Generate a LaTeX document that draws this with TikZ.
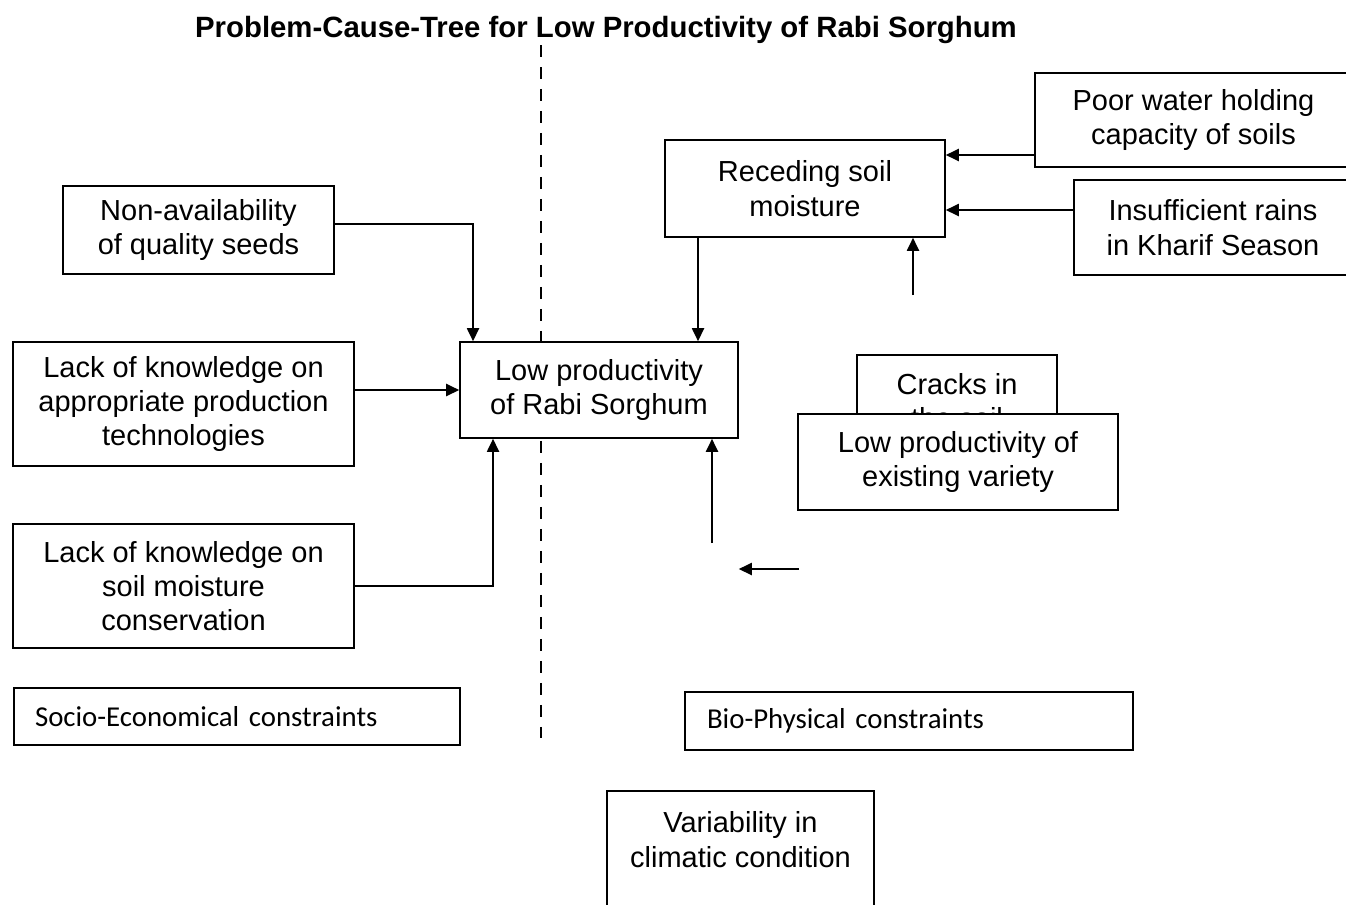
\documentclass[tikz,border=0pt]{standalone}
\usepackage{fontspec}
\setmainfont{Liberation Sans}
\newfontfamily\calibfont{Carlito}
\usepackage{tikz}
\usetikzlibrary{arrows.meta, positioning}
\tikzstyle{arrow} = [line width=1.1pt,-{Triangle[length=0.26cm,width=0.24cm]}]

\begin{document}
\begin{tikzpicture}[
  x=0.02cm, y=-0.02cm,
  box/.style={rectangle, draw, line width=0.9pt, fill=white, align=center, inner sep=0pt, font=\fontsize{16.5}{19.5}\selectfont},
  tag/.style={rectangle, draw, line width=0.9pt, fill=white, align=left, inner sep=0pt, text width=8.08cm, font=\calibfont\fontsize{16.4}{19}\selectfont},
  divider/.style={line width=1.1pt, dash pattern=on 0.24cm off 0.2cm}
]
\useasboundingbox (0,0) rectangle (1346,904);

% Title
\node (title) at (606,30) {\fontsize{16.7}{19.5}\selectfont\bfseries Problem-Cause-Tree for Low Productivity of Rabi Sorghum};

% Divider between the two kinds of constraints
\coordinate (divtop) at (541,45);
\coordinate (divbot) at (541,738);
\draw[divider] (divtop) -- (divbot);

% Central problem
\node[box, minimum width=5.56cm, minimum height=1.92cm] (lowprod) at (599,390) {Low productivity\\of Rabi Sorghum};

% Socio-economical causes
\node[box, minimum width=5.42cm, minimum height=1.76cm] (seeds) at (198.5,230) {Non-availability\\of quality seeds};
\node[box, minimum width=6.82cm, minimum height=2.48cm] (tech) at (183.5,404) {Lack of knowledge on\\appropriate production\\technologies};
\node[box, minimum width=6.82cm, minimum height=2.48cm] (soilcons) at (183.5,586) {Lack of knowledge on\\soil moisture\\conservation};

% Bio-physical causes
\node[box, minimum width=5.6cm, minimum height=1.94cm] (recede) at (805,188.5) {Receding soil\\moisture};
\node[box, minimum width=6.34cm, minimum height=1.88cm] (poor) at (1193.5,120) {Poor water holding\\capacity of soils};
\node[box, minimum width=5.56cm, minimum height=1.9cm] (rains) at (1213,227.5) {Insufficient rains\\in Kharif Season};
\node[box, minimum width=4cm, minimum height=1.84cm] (cracks) at (957,401) {Cracks in\\the soil};
\node[box, minimum width=6.4cm, minimum height=1.92cm] (variety) at (958,462) {Low productivity of\\existing variety};
\node[box, anchor=north, minimum width=5.34cm, inner ysep=0.42cm, text depth=1.6cm] (climate) at (740.5,790) {Variability in\\climatic condition};

% Group labels
\node[tag, minimum width=8.92cm, minimum height=1.14cm] (socio) at (237,716.5) {Socio-Economical constraints};
\node[tag, minimum width=8.96cm, minimum height=1.16cm] (bio) at (909,721) {Bio-Physical constraints};

% Loose arrow ends
\coordinate (moistin) at (913,295);
\coordinate (varin) at (712,543);
\coordinate (climin) at (799,569);

% Connectors
\draw[arrow] ([yshift=-0.7cm]poor.west) -- ([yshift=-0.7cm]poor.west -| recede.east);
\draw[arrow] ([yshift=0.35cm]rains.west) -- ([yshift=0.35cm]rains.west -| recede.east);
\draw[arrow] (moistin) -- (moistin |- recede.south);
\draw[arrow] ([xshift=-2.14cm]recede.south) -- ([xshift=-2.14cm]recede.south |- lowprod.north);
\draw[arrow] ([yshift=0.12cm]seeds.east) -| ([xshift=-2.52cm]lowprod.north);
\draw[arrow] ([yshift=0.28cm]tech.east) -- ([yshift=0.28cm]tech.east -| lowprod.west);
\draw[arrow] (soilcons.east) -| ([xshift=-2.12cm]lowprod.south);
\draw[arrow] (varin) -- (varin |- lowprod.south);
\draw[arrow] (climin) -- (climin -| lowprod.east);
\end{tikzpicture}
\end{document}
